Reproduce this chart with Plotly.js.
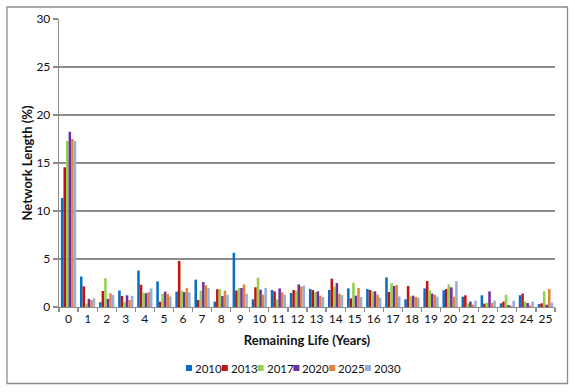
<!DOCTYPE html>
<html>
<head>
<meta charset="utf-8">
<script src="https://cdn.plot.ly/plotly-3.0.1.min.js"></script>
<style>
  html, body { margin: 0; padding: 0; background: #fff; }
  #chart { width: 575px; height: 392px; }
</style>
</head>
<body>
<div id="chart"></div>
<script>
// ---- Data ----
const categories = ["0","1","2","3","4","5","6","7","8","9","10","11","12","13","14","15","16","17","18","19","20","21","22","23","24","25"];
const seriesNames = ["2010", "2013", "2017", "2020", "2025", "2030"];
const y2010 = [11.35, 3.17, 0.5, 1.72, 3.8, 2.67, 1.6, 2.85, 0.56, 5.65, 0.8, 1.77, 1.46, 1.88, 1.77, 1.94, 1.88, 3.09, 0.8, 1.94, 1.74, 1.08, 1.22, 0.38, 1.22, 0.31];
const y2013 = [14.55, 2.15, 1.67, 1.15, 2.32, 0.55, 4.8, 0.73, 1.85, 1.72, 2.05, 1.63, 1.77, 1.77, 2.95, 0.9, 1.77, 1.56, 2.19, 2.7, 1.88, 1.22, 0.35, 0.56, 1.39, 0.38];
const y2017 = [17.3, 0.35, 3.0, 0.53, 1.5, 1.35, 1.7, 1.7, 1.84, 1.98, 3.06, 0.8, 1.7, 1.56, 2.12, 2.53, 1.63, 2.47, 1.11, 1.74, 2.36, 0.38, 0.45, 1.28, 0.56, 1.63];
const y2020 = [18.25, 0.85, 0.85, 1.22, 1.43, 1.6, 1.55, 2.6, 1.15, 1.98, 1.8, 1.94, 2.36, 1.63, 2.5, 1.18, 1.63, 2.19, 1.18, 1.39, 2.05, 0.56, 1.63, 0.21, 0.42, 0.24];
const y2025 = [17.5, 0.73, 1.42, 0.74, 1.55, 1.35, 1.97, 2.26, 1.7, 2.35, 1.28, 1.53, 2.15, 1.18, 1.39, 1.98, 1.28, 2.29, 1.04, 1.28, 1.08, 0.24, 0.42, 0.14, 0.17, 1.88];
const y2030 = [17.3, 0.92, 1.25, 1.16, 1.94, 1.1, 1.52, 1.96, 1.28, 1.39, 1.98, 1.28, 2.22, 1.04, 1.25, 1.04, 0.97, 1.11, 0.97, 1.08, 2.7, 0.66, 0.66, 0.66, 0.56, 0.45];
const yTickVals = [0, 5, 10, 15, 20, 25, 30];
const xTitle = "Remaining Life (Years)";
const yTitle = "Network Length (%)";

// ---- Styles ----
const seriesValues = [y2010, y2013, y2017, y2020, y2025, y2030];
const colors = ["#0A6EC2", "#C0150F", "#92D050", "#7030A0", "#E0843C", "#95B0D8"];
const FONT = "Lato, 'Open Sans', 'Liberation Sans', sans-serif";
const GRID = "#8C8C8C";

const traces = seriesNames.map((name, i) => ({
  type: "bar",
  name: name,
  x: categories,
  y: seriesValues[i],
  marker: { color: colors[i], line: { width: 0 } },
  showlegend: false,
  hoverinfo: "x+y+name"
}));

// plot area in px
const L = 59, R = 20, T = 19, B = 85;
const W = 575 - L - R, H = 392 - T - B;
const px = x => (x - L) / W;
const py = y => (392 - B - y) / H;

const shapes = [{
  type: "rect", xref: "paper", yref: "paper",
  x0: px(7), x1: px(567.5), y0: py(383.5), y1: py(7),
  line: { color: "#8C8C8C", width: 1.3 }, fillcolor: "rgba(0,0,0,0)"
}];
const annotations = [];
// compact legend
const legX0 = 186, legStep = 35.8, legY = 368;
seriesNames.forEach((name, i) => {
  const x = legX0 + i * legStep;
  shapes.push({
    type: "rect", xref: "paper", yref: "paper",
    x0: px(x), x1: px(x + 6), y0: py(legY + 3), y1: py(legY - 3),
    line: { width: 0 }, fillcolor: colors[i]
  });
  annotations.push({
    xref: "paper", yref: "paper", x: px(x + 7), y: py(legY),
    xanchor: "left", yanchor: "middle", showarrow: false,
    text: name, font: { family: FONT, size: 11.5, color: "#111" }
  });
});

const layout = {
  width: 575, height: 392,
  margin: { l: L, r: R, t: T, b: B, pad: 0 },
  paper_bgcolor: "#fff", plot_bgcolor: "#fff",
  font: { family: FONT, size: 11, color: "#111" },
  barmode: "group",
  bargap: 0.2,
  bargroupgap: 0,
  xaxis: {
    type: "category",
    tickvals: categories,
    ticktext: categories,
    tickangle: 0,
    tickson: "boundaries",
    ticks: "outside", ticklen: 4, tickwidth: 1.2, tickcolor: GRID,
    showline: true, linecolor: GRID, linewidth: 1.3,
    showgrid: false, zeroline: false,
    automargin: false,
    tickfont: { family: FONT, size: 12, color: "#111" },
    title: { text: "<b>" + xTitle + "</b>", font: { family: FONT, size: 13, color: "#111" }, standoff: 11 },
    fixedrange: true
  },
  yaxis: {
    range: [0, 30],
    tickvals: yTickVals,
    ticks: "outside", ticklen: 5, tickwidth: 1.2, tickcolor: GRID,
    showline: true, linecolor: GRID, linewidth: 1.3,
    showgrid: true, gridcolor: GRID, gridwidth: 1.2,
    zeroline: false,
    automargin: false,
    tickfont: { family: FONT, size: 12, color: "#111" },
    title: { text: "<b>" + yTitle + "</b>", font: { family: FONT, size: 13, color: "#111" }, standoff: 0 },
    fixedrange: true
  },
  shapes: shapes,
  annotations: annotations,
  showlegend: false
};

Plotly.newPlot("chart", traces, layout, { displayModeBar: false, staticPlot: true });
</script>
</body>
</html>
